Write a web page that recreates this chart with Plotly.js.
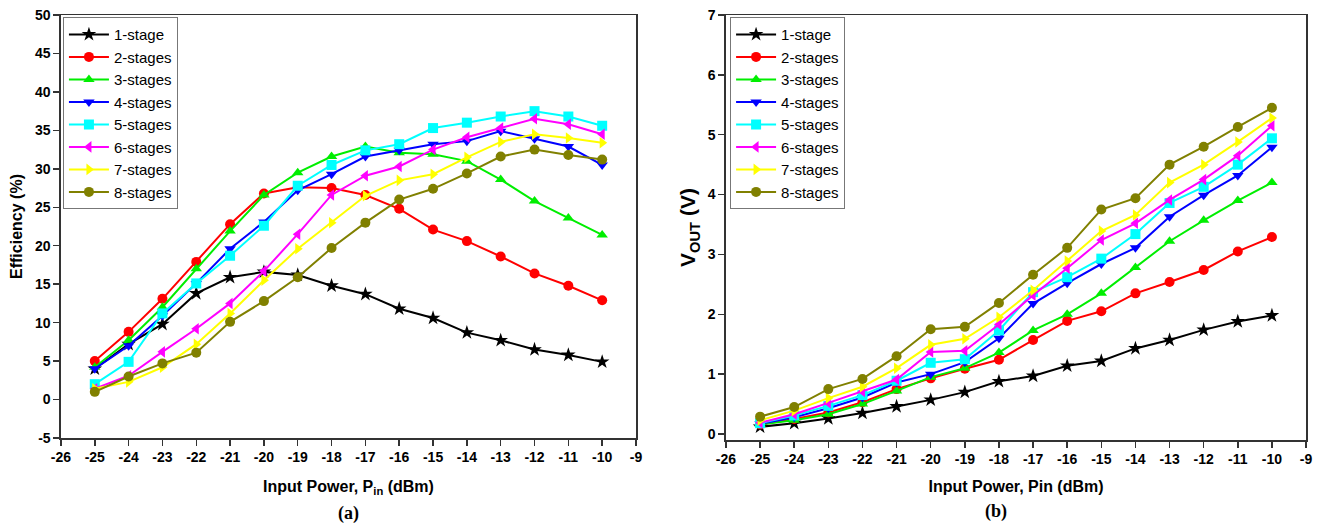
<!DOCTYPE html>
<html>
<head>
<meta charset="utf-8">
<script src="https://cdn.plot.ly/plotly-3.0.1.min.js"></script>
<style>html,body{margin:0;padding:0;background:#fff;}#chart{width:1325px;height:524px;}</style>
</head>
<body>
<div id="chart"></div>
<script>
const pin = [-25,-24,-23,-22,-21,-20,-19,-18,-17,-16,-15,-14,-13,-12,-11,-10];
const seriesNames = ['1-stage','2-stages','3-stages','4-stages','5-stages','6-stages','7-stages','8-stages'];

// Efficiency (%)
const eff1 = [4.0,7.2,9.8,13.8,15.9,16.6,16.2,14.8,13.7,11.8,10.6,8.7,7.7,6.5,5.8,4.9];
const eff2 = [5.0,8.8,13.1,17.9,22.8,26.8,27.6,27.5,26.6,24.8,22.1,20.6,18.6,16.4,14.8,12.9];
const eff3 = [4.2,7.7,12.0,17.0,21.9,26.6,29.5,31.6,32.9,32.1,31.9,31.0,28.6,25.8,23.6,21.4];
const eff4 = [4.0,7.0,10.9,15.1,19.6,23.1,27.2,29.3,31.6,32.4,33.2,33.6,34.9,33.9,32.9,30.5];
const eff5 = [2.0,4.9,11.2,15.1,18.7,22.6,27.8,30.5,32.4,33.2,35.3,36.0,36.8,37.5,36.8,35.6];
const eff6 = [1.4,3.1,6.2,9.2,12.5,16.7,21.5,26.6,29.1,30.3,32.5,34.1,35.3,36.5,35.8,34.5];
const eff7 = [1.4,2.3,4.2,7.2,11.2,15.5,19.6,23.0,26.5,28.5,29.3,31.5,33.5,34.5,34.0,33.4];
const eff8 = [1.0,3.0,4.7,6.1,10.1,12.8,15.9,19.7,23.0,26.0,27.4,29.4,31.6,32.5,31.8,31.2];

// Output voltage (V)
const vout1 = [0.12,0.18,0.26,0.35,0.46,0.57,0.70,0.88,0.97,1.14,1.22,1.43,1.57,1.74,1.88,1.98];
const vout2 = [0.16,0.25,0.36,0.53,0.75,0.93,1.09,1.24,1.57,1.89,2.05,2.35,2.54,2.74,3.05,3.29];
const vout3 = [0.16,0.23,0.33,0.50,0.72,0.95,1.10,1.36,1.73,2.00,2.35,2.78,3.22,3.57,3.90,4.20];
const vout4 = [0.17,0.28,0.43,0.61,0.86,1.00,1.20,1.60,2.18,2.52,2.84,3.11,3.63,3.99,4.32,4.79];
const vout5 = [0.18,0.31,0.47,0.65,0.89,1.19,1.25,1.73,2.37,2.62,2.93,3.34,3.86,4.13,4.50,4.94];
const vout6 = [0.19,0.33,0.52,0.71,0.91,1.37,1.39,1.83,2.32,2.77,3.24,3.52,3.91,4.25,4.65,5.15];
const vout7 = [0.23,0.39,0.60,0.79,1.10,1.49,1.59,1.95,2.40,2.89,3.39,3.66,4.20,4.50,4.88,5.28];
const vout8 = [0.29,0.45,0.75,0.92,1.30,1.75,1.79,2.19,2.66,3.11,3.75,3.94,4.50,4.80,5.13,5.45];

// Tick labels
const xTicks = [-26,-25,-24,-23,-22,-21,-20,-19,-18,-17,-16,-15,-14,-13,-12,-11,-10,-9];
const effTicks = [-5,0,5,10,15,20,25,30,35,40,45,50];
const voutTicks = [0,1,2,3,4,5,6,7];

const colors = ['#000000','#ff0000','#00ee00','#0000ff','#00ffff','#ff00ff','#ffff00','#808000'];
const symbols = ['star','circle','triangle-up','triangle-down','square','triangle-left','triangle-right','circle'];
const effData = [eff1,eff2,eff3,eff4,eff5,eff6,eff7,eff8];
const voutData = [vout1,vout2,vout3,vout4,vout5,vout6,vout7,vout8];

const traces = [];
effData.forEach((y,i)=>{
  traces.push({x:pin,y:y,name:seriesNames[i],type:'scatter',mode:'lines+markers',
    xaxis:'x',yaxis:'y',legend:'legend',
    line:{color:colors[i],width:2},
    marker:{symbol:symbols[i],color:colors[i],size:i===0?11:10,line:{width:0}}});
});
voutData.forEach((y,i)=>{
  traces.push({x:pin,y:y,name:seriesNames[i],type:'scatter',mode:'lines+markers',
    xaxis:'x2',yaxis:'y2',legend:'legend2',
    line:{color:colors[i],width:2},
    marker:{symbol:symbols[i],color:colors[i],size:i===0?11:10,line:{width:0}}});
});

const bold = a => a.map(v => '<b>' + v + '</b>');
const FF = 'Liberation Sans, Arial, sans-serif';
const tickFont = {family:FF,size:14,color:'#000'};
const axBase = {
  showline:true, linecolor:'#333', linewidth:1.5, mirror:true,
  ticks:'outside', ticklen:6, tickwidth:1.5, tickcolor:'#333',
  showgrid:false, zeroline:false, tickfont:tickFont
};

const legendBase = {
  font:{family:FF,size:15,color:'#000'},
  bgcolor:'#fff', bordercolor:'#777', borderwidth:1,
  xanchor:'left', yanchor:'top', tracegroupgap:0, itemwidth:40
};

const layout = {
  width:1325, height:524,
  margin:{l:0,r:0,t:15,b:84},
  paper_bgcolor:'#fff', plot_bgcolor:'#fff',
  showlegend:true,
  xaxis:Object.assign({},axBase,{domain:[0.0460,0.4800],range:[-26,-9],tickvals:xTicks,ticktext:bold(xTicks),anchor:'y',
    title:{text:'<b>Input Power, P<sub>in</sub> (dBm)</b>',font:{family:FF,size:16,color:'#000'},standoff:16}}),
  yaxis:Object.assign({},axBase,{domain:[0.0047,1],range:[-5,50],tickvals:effTicks,ticktext:bold(effTicks),anchor:'x',
    title:{text:'<b>Efficiency (%)</b>',font:{family:FF,size:16,color:'#000'},standoff:8}}),
  xaxis2:Object.assign({},axBase,{domain:[0.5479,0.9857],range:[-26,-9],tickvals:xTicks,ticktext:bold(xTicks),anchor:'y2',
    title:{text:'<b>Input Power, Pin (dBm)</b>',font:{family:FF,size:16,color:'#000'},standoff:14}}),
  yaxis2:Object.assign({},axBase,{domain:[0,1],range:[-0.1,7],tickvals:voutTicks,ticktext:bold(voutTicks),anchor:'x2',
    title:{text:'<b>V<sub>OUT</sub> (V)</b>',font:{family:FF,size:21,color:'#000'},standoff:6}}),
  legend:Object.assign({},legendBase,{x:0.0475,y:0.995}),
  legend2:Object.assign({},legendBase,{x:0.551,y:0.995}),
  annotations:[
    {text:'<b>(a)</b>',xref:'paper',yref:'paper',x:0.263,y:-0.172,showarrow:false,xanchor:'center',yanchor:'middle',
      font:{family:'Liberation Serif, Times New Roman, serif',size:18,color:'#000'}},
    {text:'<b>(b)</b>',xref:'paper',yref:'paper',x:0.752,y:-0.168,showarrow:false,xanchor:'center',yanchor:'middle',
      font:{family:'Liberation Serif, Times New Roman, serif',size:18,color:'#000'}}
  ]
};

Plotly.newPlot('chart',traces,layout,{displayModeBar:false,staticPlot:true});
</script>
</body>
</html>
